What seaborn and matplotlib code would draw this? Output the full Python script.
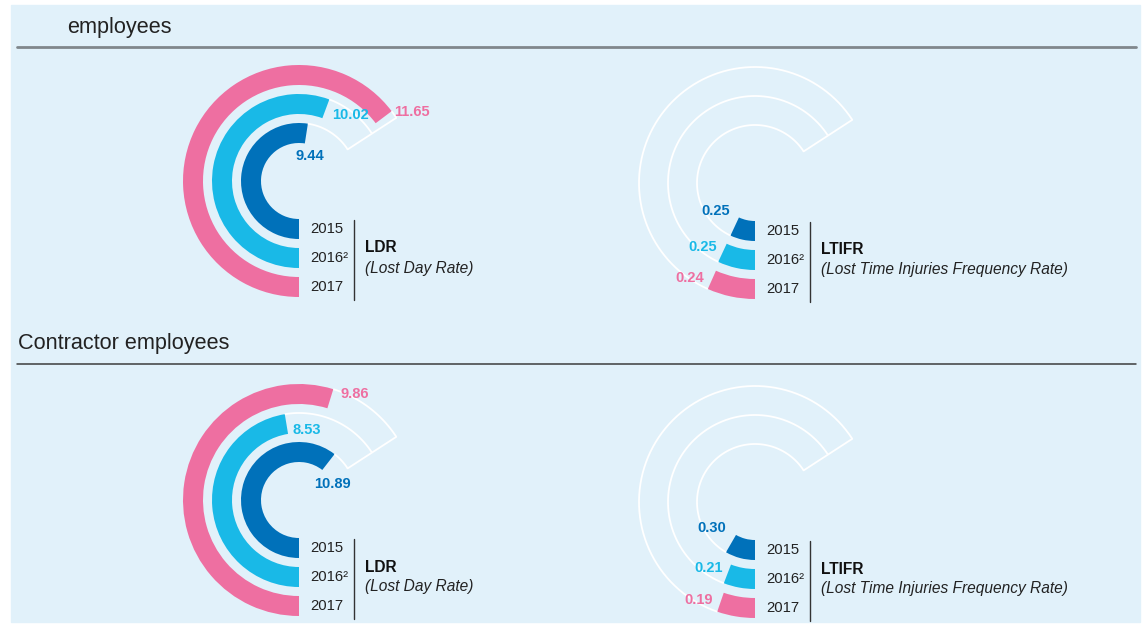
import numpy as np
import matplotlib
matplotlib.use("Agg")
import matplotlib.pyplot as plt
import seaborn as sns
from matplotlib.patches import Rectangle
from matplotlib.lines import Line2D

# theme first, then the font list (set_theme resets font.family)
sns.set_theme(style="white")
plt.rcParams["font.family"] = ["Liberation Sans", "DejaVu Sans"]

# data
years = ["2015", "2016²", "2017"]
emp_ldr = [9.44, 10.02, 11.65]
emp_ltifr = [0.25, 0.25, 0.24]
con_ldr = [10.89, 8.53, 9.86]
con_ltifr = [0.30, 0.21, 0.19]
sections = ["employees", "Contractor employees"]
metrics = ["LDR", "LTIFR"]
metric_names = ["(Lost Day Rate)", "(Lost Time Injuries Frequency Rate)"]
scale_max = {"LDR": 12.0, "LTIFR": 2.4}

# style
W, H = 1143, 626
colors = ["#0071BA", "#19B9E7", "#EE6FA1"]
bg = "#E1F1FA"
rings = [(38, 58), (67, 87), (96, 116)]
sweep_max = np.deg2rad(237)

def fx(x):
    return x / W

def fy(y):
    return 1 - y / H

fig = plt.figure(figsize=(W / 100, H / 100), dpi=100)
fig.patch.set_facecolor("white")
fig.patches.append(Rectangle((fx(11), fy(622)), (1140 - 11) / W, (622 - 5) / H,
                             transform=fig.transFigure, color=bg, zorder=-5))

# section headers
fig.text(fx(67), fy(27), sections[0], fontsize=15.6, color="#222222", va="center", ha="left")
fig.add_artist(Line2D([fx(17), fx(1136)], [fy(46.5), fy(46.5)], color="#80878C", lw=2))
fig.text(fx(18), fy(344), sections[1], fontsize=15.6, color="#222222", va="center", ha="left")
fig.add_artist(Line2D([fx(17), fx(1136)], [fy(363.5), fy(363.5)], color="#3C3C3C", lw=1.1))

panels = [
    (emp_ldr, "LDR", (299, 181)),
    (emp_ltifr, "LTIFR", (755, 183)),
    (con_ldr, "LDR", (299, 500)),
    (con_ltifr, "LTIFR", (755, 502)),
]

# label offsets in pixels from the bar end (ring middle)
ldr_offsets = [((4, -22), "center"), ((6, -6), "left"), ((10, 5), "left")]
ltifr_offsets = [((-5, 16), "right"), ((-5, 6), "right"), ((-8, 2), "right")]

for values, metric, (cx, cy) in panels:
    R = 120
    ax = fig.add_axes([fx(cx - R), fy(cy + R), 2 * R / W, 2 * R / H], projection="polar")
    ax.set_theta_zero_location("S")
    ax.set_theta_direction(-1)
    ax.set_ylim(0, R)
    ax.set_facecolor("none")
    ax.grid(False)
    ax.set_xticks([])
    ax.set_yticks([])
    ax.spines["polar"].set_visible(False)

    scale = np.deg2rad(240) / scale_max[metric]
    offsets = ldr_offsets if metric == "LDR" else ltifr_offsets
    for i, v in enumerate(values):
        r0, r1 = rings[i]
        theta = v * scale
        ax.bar(x=0, height=r1 - r0, width=theta, bottom=r0, align="edge",
               color=colors[i], edgecolor="none", linewidth=0)
        # white track on the outer edge up to the end of the scale
        t = np.linspace(min(theta, sweep_max), sweep_max, 80)
        ax.plot(t, np.full_like(t, r1), color="white", lw=1.3, solid_capstyle="butt")
        (dx, dy), ha = offsets[i]
        ax.annotate(f"{v:.2f}", xy=(theta, (r0 + r1) / 2), xytext=(dx, dy),
                    textcoords="offset pixels", ha=ha, va="center",
                    fontsize=10.5, fontweight="bold", color=colors[i])
    ax.plot([sweep_max, sweep_max], [rings[0][1], rings[-1][1]], color="white", lw=1.3)

    # year labels, separator and metric name
    for i, yr in enumerate(years):
        r0, r1 = rings[i]
        fig.text(fx(cx + 11), fy(cy + (r0 + r1) / 2), yr, fontsize=10.7,
                 color="#222222", ha="left", va="center")
    fig.add_artist(Line2D([fx(cx + 55), fx(cx + 55)], [fy(cy + 39), fy(cy + 119)],
                          color="#333333", lw=1))
    fig.text(fx(cx + 66), fy(cy + 67), metric, fontsize=11.2, fontweight="bold",
             color="#111111", ha="left", va="center")
    fig.text(fx(cx + 66), fy(cy + 87), metric_names[metrics.index(metric)], fontsize=11.2,
             style="italic", color="#222222", ha="left", va="center")

fig.savefig("out.png", dpi=100, facecolor=fig.get_facecolor())
